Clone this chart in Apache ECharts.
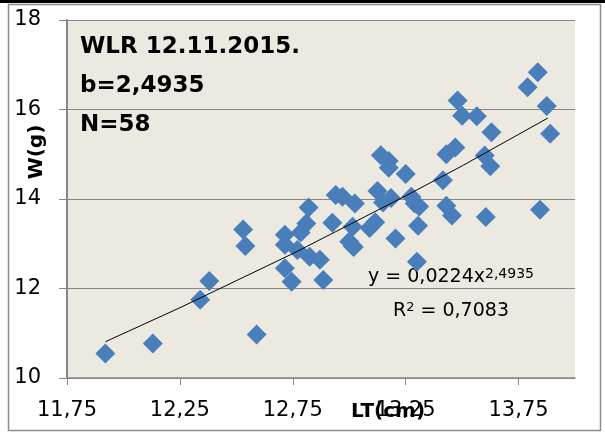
<!DOCTYPE html>
<html>
<head>
<meta charset="utf-8">
<script src="https://cdn.jsdelivr.net/npm/echarts@6/dist/echarts.min.js"></script>
<style>
  html, body { margin: 0; padding: 0; background: #fff; }
  #main { width: 605px; height: 432px; }
</style>
</head>
<body>
<div id="main"></div>
<script>
// length (cm) of each fish
var lengthCm = [
  11.92, 12.13, 12.34, 12.38, 12.53, 12.54, 12.59, 12.715, 12.715, 12.77,
  12.715, 12.745, 12.82, 12.81, 12.785, 12.825, 12.87, 12.885, 12.94, 12.97,
  12.925, 13.025, 13.015, 13.015, 13.0, 13.02, 13.09, 13.115, 13.125, 13.15,
  13.185, 13.14, 13.175, 13.175, 13.205, 13.25, 13.275, 13.29, 13.31, 13.305,
  13.30, 13.415, 13.43, 13.47, 13.43, 13.455, 13.48, 13.50, 13.565, 13.63,
  13.60, 13.625, 13.605, 13.79, 13.835, 13.875, 13.89, 13.845
];
// weight (g) of each fish
var weightG = [
  10.55, 10.77, 11.75, 12.17, 13.32, 12.95, 10.97, 13.20, 12.98, 12.86,
  12.45, 12.15, 13.81, 13.45, 13.25, 12.71, 12.64, 12.19, 14.09, 14.05,
  13.47, 13.90, 13.38, 12.95, 13.05, 12.93, 13.35, 13.48, 14.18, 13.92,
  14.02, 14.98, 14.85, 14.70, 13.12, 14.56, 14.05, 13.90, 13.83, 13.40,
  12.60, 14.42, 15.00, 15.15, 13.85, 13.63, 16.20, 15.86, 15.85, 15.49,
  14.97, 14.73, 13.60, 16.50, 16.83, 16.08, 15.46, 13.76
];
// power trendline
var trendX = [11.92, 12.25, 12.75, 13.25, 13.5, 13.88];
var trendY = [10.81, 11.57, 12.78, 14.07, 14.74, 15.81];

var xTicks = [11.75, 12.25, 12.75, 13.25, 13.75];

var infoLines = ["WLR 12.11.2015.", "b=2,4935", "N=58"];
var equationText = "y = 0,0224x{sup|2,4935}";
var r2Text = "R{sup|2} = 0,7083";

var chart = echarts.init(document.getElementById("main"));

var points = lengthCm.map(function (x, i) {
  return [x, weightG[i]];
});
var trend = trendX.map(function (x, i) {
  return [x, trendY[i]];
});

var font = "DejaVu Sans";
var gridGrey = "#868686";

var option = {
  backgroundColor: "#ffffff",
  animation: false,
  grid: {
    left: 67,
    top: 20,
    right: 30,
    bottom: 54,
    show: true,
    backgroundColor: "#ECEAE0",
    borderWidth: 0,
  },
  xAxis: {
    type: "value",
    min: 11.75,
    max: 14,
    axisLine: { onZero: false, lineStyle: { color: gridGrey, width: 1.5 } },
    axisTick: { show: true, length: 7, customValues: xTicks, lineStyle: { color: gridGrey } },
    axisLabel: {
      customValues: xTicks,
      margin: 22,
      fontFamily: font,
      fontSize: 21,
      color: "#000",
      formatter: function (v) {
        return v.toFixed(2).replace(".", ",");
      },
    },
    splitLine: { show: false },
  },
  yAxis: {
    type: "value",
    min: 10,
    max: 18,
    interval: 2,
    axisLine: { show: true, lineStyle: { color: gridGrey, width: 2 } },
    axisTick: { show: true, length: 8, lineStyle: { color: gridGrey } },
    axisLabel: {
      margin: 26,
      fontFamily: font,
      fontSize: 21,
      color: "#000",
    },
    splitLine: { show: true, lineStyle: { color: gridGrey, width: 1 } },
  },
  series: [
    {
      type: "scatter",
      data: points,
      symbol: "diamond",
      symbolSize: 20,
      itemStyle: { color: "#4A7EBB", opacity: 1 },
      z: 2,
    },
    {
      type: "line",
      data: trend,
      showSymbol: false,
      lineStyle: { color: "#000", width: 1 },
      z: 3,
    },
  ],
  graphic: [
    // chart frame
    { type: "rect", shape: { x: 0, y: 0, width: 605, height: 3 }, style: { fill: "#000" } },
    {
      type: "rect",
      shape: { x: 8.5, y: 4.5, width: 592, height: 426 },
      style: { fill: null, stroke: "#8c8c8c", lineWidth: 1.5 },
      silent: true,
    },
    // info box
    {
      type: "text",
      x: 80,
      y: 47,
      style: { text: infoLines[0], fontFamily: font, fontWeight: "bold", fontSize: 23, fill: "#000", verticalAlign: "middle" },
    },
    {
      type: "text",
      x: 80,
      y: 86,
      style: { text: infoLines[1], fontFamily: font, fontWeight: "bold", fontSize: 23, fill: "#000", verticalAlign: "middle" },
    },
    {
      type: "text",
      x: 80,
      y: 125,
      style: { text: infoLines[2], fontFamily: font, fontWeight: "bold", fontSize: 23, fill: "#000", verticalAlign: "middle" },
    },
    // equation
    {
      type: "text",
      x: 451,
      y: 277,
      style: {
        text: equationText,
        fontFamily: font,
        fontSize: 19,
        fill: "#000",
        align: "center",
        verticalAlign: "middle",
        rich: {
          sup: { fontFamily: font, fontSize: 14, verticalAlign: "top", fill: "#000" },
        },
      },
    },
    {
      type: "text",
      x: 451,
      y: 311,
      style: {
        text: r2Text,
        fontFamily: font,
        fontSize: 19,
        fill: "#000",
        align: "center",
        verticalAlign: "middle",
        rich: {
          sup: { fontFamily: font, fontSize: 13, verticalAlign: "top", fill: "#000" },
        },
      },
    },
    // axis names
    {
      type: "text",
      x: 37,
      y: 152,
      rotation: Math.PI / 2,
      style: { text: "W(g)", fontFamily: font, fontWeight: "bold", fontSize: 20, fill: "#000", align: "center", verticalAlign: "middle" },
    },
    {
      type: "text",
      x: 388,
      y: 412,
      style: { text: "LT(cm)", fontFamily: font, fontWeight: "bold", fontSize: 20, fill: "#000", align: "center", verticalAlign: "middle" },
    },
  ],
};

chart.setOption(option);
</script>
</body>
</html>
